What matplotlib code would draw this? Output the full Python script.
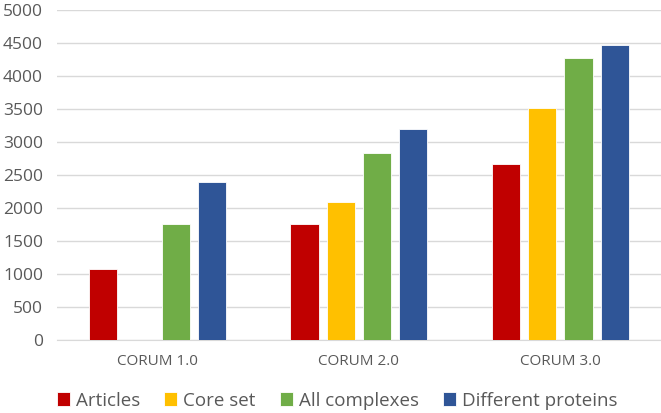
import matplotlib.pyplot as plt
import numpy as np

plt.rcParams['font.family'] = ['Open Sans', 'DejaVu Sans']

categories = ['CORUM 1.0', 'CORUM 2.0', 'CORUM 3.0']
series = ['Articles', 'Core set', 'All complexes', 'Different proteins']
articles = [1070, 1750, 2665]
core_set = [0, 2085, 3510]
all_complexes = [1750, 2835, 4275]
different_proteins = [2400, 3200, 4470]
colors = ['#C00000', '#FFC000', '#70AD47', '#2F5597']

values = [articles, core_set, all_complexes, different_proteins]

fig = plt.figure(figsize=(6.61, 4.13), dpi=100)
ax = fig.add_axes([0.086, 0.177, 0.914, 0.799])

x = np.arange(len(categories))
width = 0.14
step = 0.18
for i, (name, vals) in enumerate(zip(series, values)):
    ax.bar(x + (i - 1.5) * step, vals, width, color=colors[i], label=name,
           edgecolor='white', linewidth=0.6, zorder=3)

ax.set_xlim(-0.5, 2.5)
ax.set_ylim(0, 5000)
ax.set_yticks(np.arange(0, 5001, 500))
ax.set_xticks(x)
ax.set_xticklabels(categories)
ax.grid(axis='y', color='#D9D9D9', linewidth=1, zorder=0)
for s in ['top', 'right', 'left']:
    ax.spines[s].set_visible(False)
ax.spines['bottom'].set_color('#D9D9D9')
ax.tick_params(axis='both', length=0, colors='#595959')
ax.tick_params(axis='y', labelsize=12.5, pad=10)
ax.tick_params(axis='x', labelsize=11, pad=10)

fig.legend(loc='center', bbox_to_anchor=(0.51, 0.03), ncol=4, frameon=False,
           fontsize=13.5, handlelength=0.7, handleheight=0.7, handletextpad=0.3,
           columnspacing=1.3, labelcolor='#595959')

plt.savefig('out.png')
